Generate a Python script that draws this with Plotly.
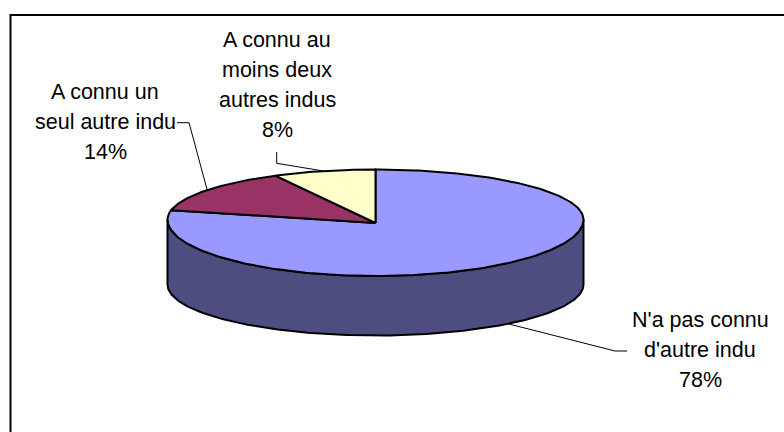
import numpy as np
import plotly.graph_objects as go

slice_names = ["N'a pas connu d'autre indu", "A connu un seul autre indu", "A connu au moins deux autres indus"]
slice_values = [78, 14, 8]
slice_colors = ["#9999FF", "#993366", "#FFFFCC"]
side_color = "#4D4D80"
label_lines = [
    ["N'a pas connu", "d'autre indu", "78%"],
    ["A connu un", "seul autre indu", "14%"],
    ["A connu au", "moins deux", "autres indus", "8%"],
]
label_centers = [(700, 320), (105, 92), (277, 40)]
leader_starts = [[(627, 351), (615, 351)], [(177, 122.7), (189, 122.7)], [(276.7, 152), (276.7, 163.3)]]

W, H = 784, 432
CX, RX = 375.5, 208
TOP_CY, TOP_UP, TOP_DOWN = 219.5, 50, 56.5   # perspective: near half of the disc is taller
BOT_CY, BOT_DOWN = 284.5, 51
HUB_Y = 223
FONT = dict(family="Liberation Sans, Arial, sans-serif", size=21.5, color="#000000")
LINE_H = 30


def rim(deg):
    a = np.radians(deg)
    c = np.cos(a)
    return CX + RX * np.sin(a), TOP_CY - np.where(c > 0, TOP_UP, TOP_DOWN) * c


def base(deg):
    a = np.radians(deg)
    return CX + RX * np.sin(a), BOT_CY - BOT_DOWN * np.cos(a)


fig = go.Figure()

# cylinder wall (front half of the disc)
a = np.linspace(90, 270, 181)
x_top, y_top = rim(a)
x_bot, y_bot = base(a)
fig.add_trace(go.Scatter(
    x=np.r_[x_top, x_bot[::-1], x_top[0]], y=np.r_[y_top, y_bot[::-1], y_top[0]],
    mode="lines", fill="toself", fillcolor=side_color,
    line=dict(color="#000000", width=2), hoverinfo="skip", showlegend=False))

# top faces, one per value
total = sum(slice_values)
start = 0.0
mids = []
for name, v, col in zip(slice_names, slice_values, slice_colors):
    sweep = 360.0 * v / total
    t = np.linspace(start, start + sweep, max(int(sweep), 2) + 1)
    xr, yr = rim(t)
    fig.add_trace(go.Scatter(
        x=np.r_[CX, xr, CX], y=np.r_[HUB_Y, yr, HUB_Y],
        mode="lines", fill="toself", fillcolor=col, name=name,
        line=dict(color="#000000", width=2), hoverinfo="skip", showlegend=False))
    mids.append(start + sweep / 2)
    start += sweep

# leader lines end on the rim at each slice's mid angle
for i, (pts, m) in enumerate(zip(leader_starts, mids)):
    ex, ey = base(m) if i == 0 else rim(m)
    xs = [p[0] for p in pts] + [float(ex)]
    ys = [p[1] for p in pts] + [float(ey)]
    fig.add_trace(go.Scatter(x=xs, y=ys, mode="lines", line=dict(color="#000000", width=1),
                             hoverinfo="skip", showlegend=False))

annotations = []
for lines, (cx, cy) in zip(label_lines, label_centers):
    for j, txt in enumerate(lines):
        annotations.append(dict(x=cx, y=cy + j * LINE_H, text=txt, showarrow=False, font=FONT,
                                xref="x", yref="y", xanchor="center", yanchor="middle"))

fig.update_layout(
    width=W, height=H, autosize=False, margin=dict(l=0, r=0, t=0, b=0),
    paper_bgcolor="#FFFFFF", plot_bgcolor="#FFFFFF", showlegend=False,
    xaxis=dict(range=[0, W], visible=False, fixedrange=True),
    yaxis=dict(range=[H, 0], visible=False, fixedrange=True),
    annotations=annotations,
    shapes=[dict(type="rect", xref="x", yref="y", x0=10.5, y0=15, x1=W + 20, y1=H + 20,
                 line=dict(color="#000000", width=2), layer="above")],
)
fig.write_html("out.html", config=dict(displayModeBar=False),
               post_script="document.body.style.margin='0';document.documentElement.style.overflow='hidden';")
